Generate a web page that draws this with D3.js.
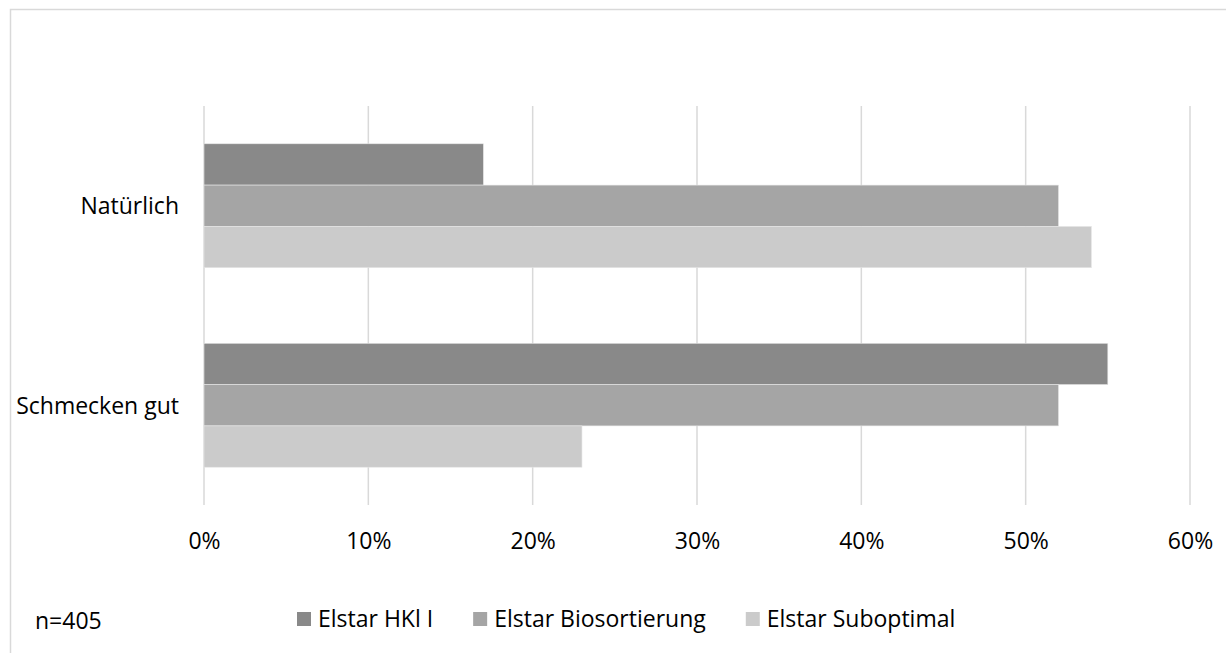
<!DOCTYPE html>
<html>
<head>
<meta charset="utf-8">
<script src="https://cdn.jsdelivr.net/npm/d3@7"></script>
<style>
  html, body { margin: 0; padding: 0; background: #fff; }
  svg { display: block; }
  text { font-family: "Open Sans", "Noto Sans", sans-serif; fill: #000; }
</style>
</head>
<body>
<svg id="chart" width="1226" height="653"></svg>
<script>
// Categories (top to bottom) and series
const categories = ["Natürlich", "Schmecken gut"];
const seriesNames = ["Elstar HKl I", "Elstar Biosortierung", "Elstar Suboptimal"];
const seriesColors = ["#898989", "#a5a5a5", "#cbcbcb"];
// Share per category, one array per series (percent)
const hklValues = [17, 55];
const bioValues = [52, 52];
const subValues = [54, 23];
const tickValues = [0, 10, 20, 30, 40, 50, 60];
const noteText = "n=405";

const seriesValues = [hklValues, bioValues, subValues];
const FONT = 23;

const svg = d3.select("#chart");
const W = 1226, H = 653;
const plot = { left: 204, right: 1190, top: 106, bottom: 505 };

// Chart-area frame
svg.append("rect")
  .attr("x", 10.5).attr("y", 9.5)
  .attr("width", W + 20).attr("height", H + 20)
  .attr("fill", "none").attr("stroke", "#d9d9d9").attr("stroke-width", 1.5);

const x = d3.scaleLinear().domain([0, 60]).range([plot.left, plot.right]);
const y0 = d3.scaleBand().domain(categories).range([plot.top, plot.bottom]).padding(0);
const y1 = d3.scaleBand().domain(seriesNames).range([0, y0.bandwidth()])
  .paddingInner(0).paddingOuter(0.915);

// Vertical gridlines
svg.append("g").selectAll("line").data(tickValues).join("line")
  .attr("x1", d => x(d)).attr("x2", d => x(d))
  .attr("y1", plot.top).attr("y2", plot.bottom)
  .attr("stroke", "#d9d9d9").attr("stroke-width", 1.5);

// Bars
const rows = [];
categories.forEach((c, ci) => seriesNames.forEach((s, si) => {
  rows.push({ cat: c, series: s, value: seriesValues[si][ci], color: seriesColors[si] });
}));
svg.append("g").selectAll("rect").data(rows).join("rect")
  .attr("x", x(0))
  .attr("y", d => y0(d.cat) + y1(d.series))
  .attr("width", d => x(d.value) - x(0))
  .attr("height", y1.bandwidth())
  .attr("fill", d => d.color)
  .attr("stroke", "#e6e6e6").attr("stroke-width", 0.6);

// X axis labels
const xAxis = d3.axisBottom(x).tickValues(tickValues).tickFormat(d => d + "%").tickSize(0).tickPadding(0);
const gx = svg.append("g").attr("transform", "translate(0, 549)").call(xAxis);
gx.select(".domain").remove();
gx.selectAll("text").attr("dy", 0).attr("y", 0)
  .attr("font-size", FONT).attr("font-family", "Open Sans, sans-serif").attr("fill", "#000");

// Category labels
const yAxis = d3.axisLeft(y0).tickSize(0).tickPadding(0);
const gy = svg.append("g").attr("transform", "translate(179, 0)").call(yAxis);
gy.select(".domain").remove();
gy.selectAll("text").attr("dy", "0.37em")
  .attr("font-size", FONT).attr("font-family", "Open Sans, sans-serif").attr("fill", "#000");

// Sample size note
svg.append("text").attr("x", 35).attr("y", 629).attr("font-size", FONT).text(noteText);

// Legend
const legend = svg.append("g").attr("transform", "translate(297, 0)");
let lx = 0;
seriesNames.forEach((s, i) => {
  const g = legend.append("g").attr("transform", `translate(${lx}, 0)`);
  g.append("rect").attr("x", 0).attr("y", 612).attr("width", 14).attr("height", 14).attr("fill", seriesColors[i]);
  const t = g.append("text").attr("x", 21).attr("y", 627).attr("font-size", FONT).text(s);
  lx += 21 + t.node().getComputedTextLength() + 40;
});
</script>
</body>
</html>
